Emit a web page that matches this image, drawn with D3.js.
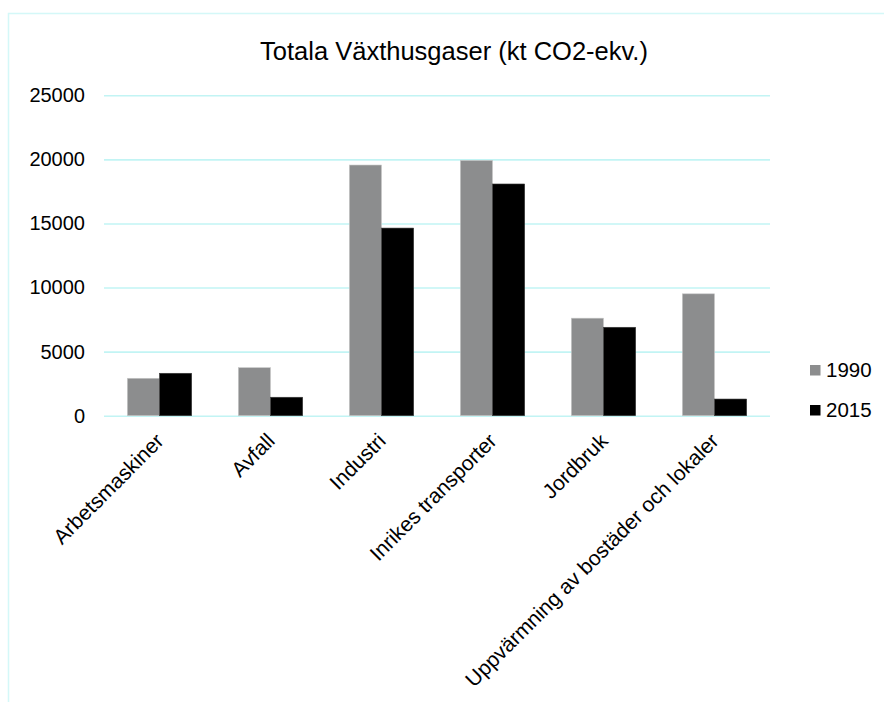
<!DOCTYPE html>
<html>
<head>
<meta charset="utf-8">
<script src="https://cdn.jsdelivr.net/npm/d3@7"></script>
<style>
  html, body { margin: 0; padding: 0; background: #fff; }
  svg { display: block; font-family: "Liberation Sans", Arial, sans-serif; }
</style>
</head>
<body>
<svg id="chart" width="884" height="702"></svg>
<script>
// Emissions per sector, kt CO2-equivalent
const categories = ["Arbetsmaskiner", "Avfall", "Industri", "Inrikes transporter", "Jordbruk", "Uppvärmning av bostäder och lokaler"];
const years = ["1990", "2015"];
const values1990 = [2920, 3750, 19560, 19920, 7610, 9510];
const values2015 = [3310, 1440, 14640, 18080, 6900, 1300];
const yTicks = [0, 5000, 10000, 15000, 20000, 25000];
const colors = ["#8c8d8e", "#000000"];

const FONT = "Liberation Sans, Arial, sans-serif";
const svg = d3.select("#chart");
const margin = { left: 104, right: 770, top: 95.3, bottom: 415.7 };

// Outer frame
svg.append("rect")
  .attr("x", 8.5).attr("y", 13.5)
  .attr("width", 900).attr("height", 720)
  .attr("fill", "none").attr("stroke", "#d4f8f8").attr("stroke-width", 1.5);

const x0 = d3.scaleBand().domain(categories).range([margin.left, margin.right]).paddingInner(0.42).paddingOuter(0.21);
const x1 = d3.scaleBand().domain(years).range([0, x0.bandwidth()]);
const y = d3.scaleLinear().domain([0, 25000]).range([margin.bottom, margin.top]);

// Gridlines
svg.append("g")
  .attr("transform", `translate(${margin.left},0)`)
  .call(d3.axisLeft(y).tickValues(yTicks).tickSize(-(margin.right - margin.left)).tickFormat(""))
  .call(g => g.select(".domain").remove())
  .call(g => g.selectAll("line").attr("stroke", "#c2f4f4").attr("stroke-width", 1.6));

// Y labels
svg.append("g")
  .attr("transform", `translate(${margin.left},0)`)
  .call(d3.axisLeft(y).tickValues(yTicks).tickSize(0).tickPadding(19).tickFormat(d3.format("d")))
  .call(g => g.select(".domain").remove())
  .call(g => g.selectAll("text").attr("font-size", 20).attr("fill", "#000").attr("font-family", FONT));

// Bars
const data = categories.map((c, i) => ({ cat: c, vals: [values1990[i], values2015[i]] }));
const groups = svg.append("g").selectAll("g").data(data).join("g")
  .attr("transform", d => `translate(${x0(d.cat)},0)`);
groups.selectAll("rect").data(d => d.vals.map((v, j) => ({ year: years[j], v, j })))
  .join("rect")
  .attr("x", d => x1(d.year))
  .attr("y", d => y(d.v))
  .attr("width", x1.bandwidth())
  .attr("height", d => y(0) - y(d.v))
  .attr("fill", d => colors[d.j])
  .attr("stroke", d => d.j === 0 ? "#c8c8c8" : "#3a3a3a")
  .attr("stroke-width", 0.6);

// X labels, rotated
svg.append("g")
  .attr("transform", `translate(0,${margin.bottom})`)
  .call(d3.axisBottom(x0).tickSize(0).tickPadding(0))
  .call(g => g.select(".domain").remove())
  .call(g => g.selectAll("text")
    .attr("font-size", 21).attr("fill", "#000")
    .attr("font-family", FONT)
    .attr("text-anchor", "end")
    .attr("y", 0)
    .attr("dy", "0.71em")
    .attr("transform", "translate(-5,16) rotate(-45)"));

// Title
svg.append("text")
  .attr("x", 454).attr("y", 60)
  .attr("text-anchor", "middle")
  .attr("font-size", 25.5)
  .attr("fill", "#000")
  .text("Totala Växthusgaser (kt CO2-ekv.)");

// Legend
const legend = svg.append("g").selectAll("g").data(years).join("g")
  .attr("transform", (d, i) => `translate(810,${365 + i * 40})`);
legend.append("rect").attr("width", 10.5).attr("height", 10.5).attr("fill", (d, i) => colors[i]);
legend.append("text").attr("x", 16).attr("y", 12).attr("font-size", 20.5).attr("fill", "#000").text(d => d);
</script>
</body>
</html>
